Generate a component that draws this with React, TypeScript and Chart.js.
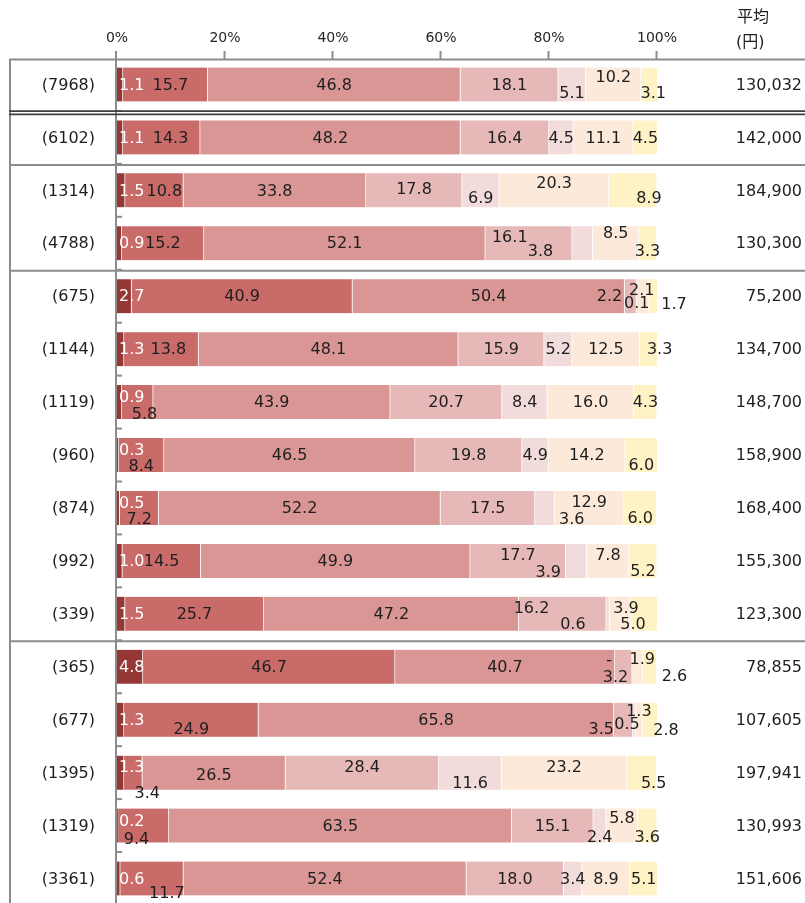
import React, { useEffect, useRef } from 'react';
import { Chart, registerables } from 'chart.js';

Chart.register(...registerables);

// ---- data ----
const rowLabels = [
  '(7968)', '(6102)', '(1314)', '(4788)', '(675)', '(1144)', '(1119)', '(960)',
  '(874)', '(992)', '(339)', '(365)', '(677)', '(1395)', '(1319)', '(3361)',
];
const avgLabels = [
  '130,032', '142,000', '184,900', '130,300', '75,200', '134,700', '148,700', '158,900',
  '168,400', '155,300', '123,300', '78,855', '107,605', '197,941', '130,993', '151,606',
];
const headerLine1 = '平均';
const headerLine2 = '(円)';
const tickValues = [0, 20, 40, 60, 80, 100];
const tickLabels = ['0%', '20%', '40%', '60%', '80%', '100%'];

const seriesNames = ['区分1', '区分2', '区分3', '区分4', '区分5', '区分6', '区分7'];
const s1 = [1.1, 1.1, 1.5, 0.9, 2.7, 1.3, 0.9, 0.3, 0.5, 1.0, 1.5, 4.8, 1.3, 1.3, 0.2, 0.6];
const s2 = [15.7, 14.3, 10.8, 15.2, 40.9, 13.8, 5.8, 8.4, 7.2, 14.5, 25.7, 46.7, 24.9, 3.4, 9.4, 11.7];
const s3 = [46.8, 48.2, 33.8, 52.1, 50.4, 48.1, 43.9, 46.5, 52.2, 49.9, 47.2, 40.7, 65.8, 26.5, 63.5, 52.4];
const s4 = [18.1, 16.4, 17.8, 16.1, 2.2, 15.9, 20.7, 19.8, 17.5, 17.7, 16.2, 3.2, 3.5, 28.4, 15.1, 18.0];
const s5 = [5.1, 4.5, 6.9, 3.8, 0.1, 5.2, 8.4, 4.9, 3.6, 3.9, 0.6, null, 0.5, 11.6, 2.4, 3.4];
const s6 = [10.2, 11.1, 20.3, 8.5, 2.1, 12.5, 16.0, 14.2, 12.9, 7.8, 3.9, 1.9, 1.3, 23.2, 5.8, 8.9];
const s7 = [3.1, 4.5, 8.9, 3.3, 1.7, 3.3, 4.3, 6.0, 6.0, 5.2, 5.0, 2.6, 2.8, 5.5, 3.6, 5.1];
const series: (number | null)[][] = [s1, s2, s3, s4, s5, s6, s7];

// ---- styles ----
const colors = ['#953735', '#C86B69', '#D99694', '#E6B9B8', '#F2DCDB', '#FDE9D9', '#FFF2C4'];
const FONT = "'DejaVu Sans', 'Noto Sans CJK JP', sans-serif";
const TEXT = '#1e1e1e';
const FRAME = '#8c8c8c';
const DOUBLE = '#3f3f3f';

// manual label nudges (row-segment) -> [dx, dy] in px, as placed in the original
const labelShift: Record<string, [number, number]> = {
  '0-1': [5, 0], '0-4': [0, 8], '0-5': [0, -8], '0-6': [4, 8],
  '1-1': [9, 0],
  '2-1': [10, 0], '2-3': [0, -2], '2-4': [0, 7], '2-5': [0, -8], '2-6': [16, 7],
  '3-3': [-19, -6], '3-4': [-42, 8], '3-5': [0, -10], '3-6': [0, 8],
  '4-3': [-21, 0], '4-4': [0, 7], '4-5': [-1, -6], '4-6': [21, 8],
  '5-1': [7, 0], '5-6': [11, 0],
  '6-0': [0, -5], '6-1': [7, 12],
  '7-0': [0, -5], '7-1': [0, 11], '7-6': [0, 10],
  '8-0': [0, -5], '8-1': [0, 11], '8-4': [27, 11], '8-5': [0, -6], '8-6': [0, 10],
  '9-3': [0, -6], '9-4': [-28, 11], '9-5': [0, -6], '9-6': [0, 10],
  '10-3': [-31, -6], '10-4': [-35, 10], '10-5': [6, -6], '10-6': [-11, 10],
  '11-3': [-8, 10], '11-4': [-23, -7], '11-5': [5, -8], '11-6': [25, 9],
  '12-1': [0, 9], '12-3': [-22, 9], '12-4': [-7, 4], '12-5': [0, -9], '12-6': [16, 10],
  '13-0': [0, -6], '13-1': [14, 20], '13-2': [0, 2], '13-3': [0, -6], '13-4': [0, 10], '13-5': [0, -6], '13-6': [12, 10],
  '14-0': [0, -5], '14-1': [-7, 13], '14-4': [0, 11], '14-5': [0, -8], '14-6': [0, 11],
  '15-1': [15, 14],
};

const decorPlugin = {
  id: 'decor',
  afterDatasetsDraw(chart: any) {
    const ctx = chart.ctx as CanvasRenderingContext2D;
    const xs = chart.scales.x;
    const ys = chart.scales.y;
    const W = chart.width;
    const H = chart.height;
    const rowPx = ys.getPixelForValue(1) - ys.getPixelForValue(0);
    const top = ys.getPixelForValue(0) - rowPx / 2;
    const boundary = (k: number) => top + k * rowPx;
    const x0 = xs.getPixelForValue(0);

    ctx.save();
    const line = (xa: number, ya: number, xb: number, yb: number, color: string, w: number) => {
      ctx.strokeStyle = color;
      ctx.lineWidth = w;
      ctx.beginPath();
      ctx.moveTo(xa, ya);
      ctx.lineTo(xb, yb);
      ctx.stroke();
    };

    // frame
    line(9, 59.5, W, 59.5, FRAME, 2);
    line(10, 59.5, 10, H, FRAME, 2);
    line(x0 - 1, 51, x0 - 1, H, FRAME, 2);
    tickValues.forEach((v) => {
      if (v === 0) return;
      const x = xs.getPixelForValue(v) - 0.5;
      line(x, 51, x, 59.5, FRAME, 2);
    });
    [2, 4, 11].forEach((k) => line(9, boundary(k) + 1, W, boundary(k) + 1, FRAME, 2));
    for (let k = 1; k <= rowLabels.length; k++) {
      line(x0 - 1, boundary(k), x0 + 5, boundary(k), FRAME, 2);
    }
    line(9, boundary(1) + 0.2, W, boundary(1) + 0.2, DOUBLE, 1.7);
    line(9, boundary(1) + 3.5, W, boundary(1) + 3.5, DOUBLE, 1.7);

    // tick labels
    ctx.fillStyle = '#262626';
    ctx.font = `14px ${FONT}`;
    ctx.textAlign = 'center';
    ctx.textBaseline = 'middle';
    tickValues.forEach((v, i) => ctx.fillText(tickLabels[i], xs.getPixelForValue(v), 38));

    // header
    ctx.fillStyle = TEXT;
    ctx.font = `16px ${FONT}`;
    ctx.textAlign = 'left';
    ctx.fillText(headerLine1, 737, 18);
    ctx.fillText(headerLine2, 736, 43);

    // row labels and averages
    rowLabels.forEach((lab, i) => {
      const y = ys.getPixelForValue(i);
      ctx.textAlign = 'right';
      ctx.fillText(lab, 95, y + 1);
      ctx.fillText(avgLabels[i], 802, y + 1);
    });

    // value labels
    rowLabels.forEach((_, i) => {
      const y = ys.getPixelForValue(i) + 1;
      let cum = 0;
      series.forEach((arr, j) => {
        const v = arr[i];
        const start = xs.getPixelForValue(cum);
        cum += v ?? 0;
        const end = xs.getPixelForValue(cum);
        const [dx, dy] = labelShift[`${i}-${j}`] || [0, 0];
        const text = v == null ? '-' : v.toFixed(1);
        if (j === 0) {
          ctx.fillStyle = '#ffffff';
          ctx.textAlign = 'left';
          ctx.fillText(text, start + 2 + dx, y + dy);
        } else {
          ctx.fillStyle = TEXT;
          ctx.textAlign = 'center';
          ctx.fillText(text, (start + end) / 2 + dx, y + dy);
        }
      });
    });
    ctx.restore();
  },
};

export default function App() {
  const ref = useRef<HTMLCanvasElement | null>(null);
  useEffect(() => {
    if (!ref.current) return;
    const chart = new Chart(ref.current, {
      type: 'bar',
      data: {
        labels: rowLabels,
        datasets: series.map((arr, j) => ({
          label: seriesNames[j],
          data: arr,
          backgroundColor: colors[j],
          borderColor: 'rgba(255,255,255,0.55)',
          borderWidth: { top: 0, bottom: 0, left: 0, right: 1 },
          borderSkipped: false,
          barThickness: 34,
        })),
      },
      options: {
        indexAxis: 'y',
        animation: false,
        responsive: false,
        devicePixelRatio: 1,
        layout: { padding: { left: 117, right: 148, top: 58, bottom: 0 } },
        scales: {
          x: { stacked: true, min: 0, max: 100, display: false },
          y: { stacked: true, display: false },
        },
        plugins: { legend: { display: false }, tooltip: { enabled: false } },
      },
      plugins: [decorPlugin],
    } as any);
    return () => chart.destroy();
  }, []);
  return (
    <div style={{ position: 'fixed', left: 0, top: 0, width: 805, height: 903, overflow: 'hidden', background: '#fff' }}>
      <canvas ref={ref} width={805} height={905} style={{ display: 'block' }} />
    </div>
  );
}
